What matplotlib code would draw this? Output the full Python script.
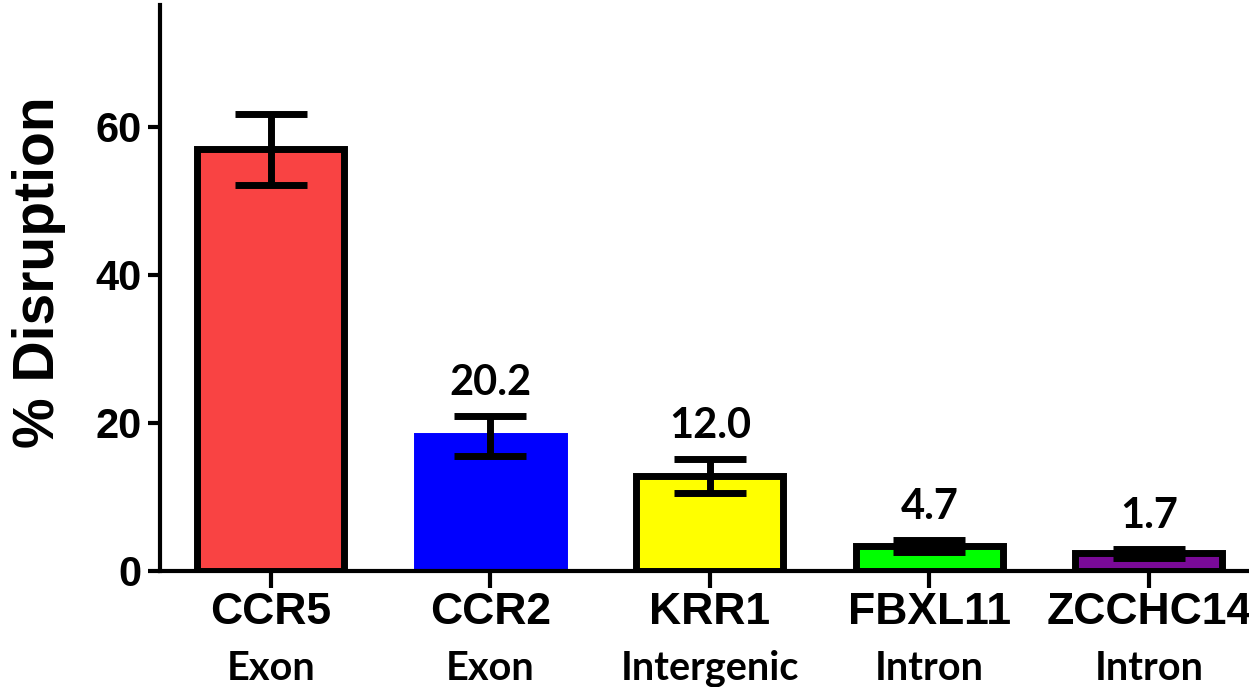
import matplotlib.pyplot as plt
import numpy as np

genes = ["CCR5", "CCR2", "KRR1", "FBXL11", "ZCCHC14"]
regions = ["Exon", "Exon", "Intergenic", "Intron", "Intron"]
means = [57.0, 18.2, 12.8, 3.4, 2.4]
errs = [4.8, 2.7, 2.3, 0.8, 0.6]
labels = ["", "20.2", "12.0", "4.7", "1.7"]
colors = ["#F94343", "#0000FF", "#FFFF00", "#00FF00", "#7A0A98"]
edges = ["black", "#0000FF", "black", "black", "black"]

ARIAL = "Liberation Sans"
CALIBRI = "Lato"

fig = plt.figure(figsize=(12.49, 6.87), dpi=100)
ax = fig.add_axes([0.128, 0.1689, 0.872, 0.824])

x = np.arange(len(genes))
ax.bar(x, means, width=0.67, color=colors, edgecolor=edges, linewidth=5, zorder=2)
ax.errorbar(x, means, yerr=errs, fmt="none", ecolor="black", elinewidth=5,
            capsize=26, capthick=5, zorder=3)

# value labels above the error bars
for i in range(len(genes)):
    if labels[i]:
        ax.annotate(labels[i], xy=(x[i], means[i] + errs[i]), xytext=(0, 15),
                    textcoords="offset points", ha="center", va="baseline",
                    fontsize=30, fontweight="bold", family=CALIBRI)

ax.set_xlim(-0.506, 4.456)
ax.set_ylim(0, 76.5)
ax.set_yticks([0, 20, 40, 60])
ax.set_yticklabels(["0", "20", "40", "60"], fontsize=30, fontweight="bold", family=ARIAL)
ax.set_xticks(x)
ax.set_xticklabels(genes, fontsize=32, fontweight="bold", family=ARIAL)

# second line of the category labels, different font
for i in range(len(genes)):
    ax.text(x[i], -0.1926, regions[i], transform=ax.get_xaxis_transform(),
            ha="center", va="baseline", fontsize=28.5, fontweight="bold",
            family=CALIBRI)

ax.spines["top"].set_visible(False)
ax.spines["right"].set_visible(False)
ax.spines["left"].set_linewidth(3)
ax.spines["bottom"].set_linewidth(3)
ax.tick_params(axis="y", length=9, width=3, pad=4)
ax.tick_params(axis="x", length=12, width=3, pad=3)

fig.text(39 / 1249, 1 - 272 / 687, "% Disruption", rotation=90, ha="center",
         va="center", fontsize=41, fontweight="bold", family=ARIAL)

plt.savefig("out.png", dpi=100)
